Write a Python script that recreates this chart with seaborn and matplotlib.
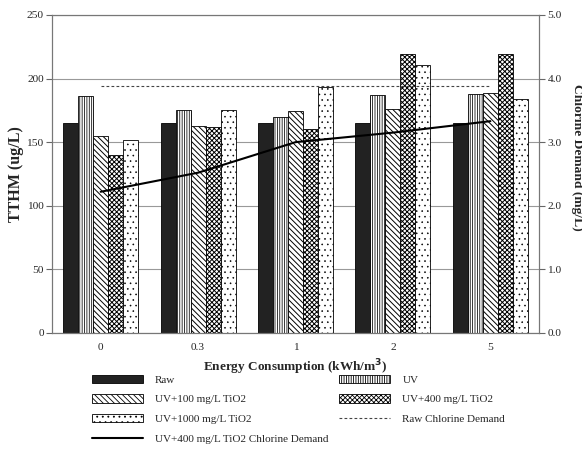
import seaborn as sns
import matplotlib.pyplot as plt
from matplotlib.patches import Patch
from matplotlib.lines import Line2D
import numpy as np
import pandas as pd

# energy consumption levels (kWh/m3)
energy = ["0", "0.3", "1", "2", "5"]
treatments = ["Raw", "UV", "UV+100 mg/L TiO2", "UV+400 mg/L TiO2", "UV+1000 mg/L TiO2"]

# TTHM (ug/L) per treatment
tthm_raw = [165, 165, 165, 165, 165]
tthm_uv = [186, 175, 169.5, 187, 188]
tthm_uv100 = [155, 163, 174.5, 176, 189]
tthm_uv400 = [140, 162, 160, 219, 219]
tthm_uv1000 = [152, 175, 193, 211, 184]

# chlorine demand (mg/L)
cl_raw = [3.88, 3.88, 3.88, 3.88, 3.88]
cl_uv400 = [2.22, 2.52, 3.0, 3.15, 3.33]

sns.set_style("white")
plt.rcParams['font.family'] = ['Liberation Serif', 'DejaVu Serif']
plt.rcParams['hatch.linewidth'] = 0.6
plt.rcParams['font.size'] = 8

df = pd.DataFrame({
    "Energy": energy * 5,
    "Treatment": np.repeat(treatments, len(energy)),
    "TTHM": tthm_raw + tthm_uv + tthm_uv100 + tthm_uv400 + tthm_uv1000,
})

styles = {
    "Raw": dict(facecolor="#222222", hatch=None, hlw=0.6),
    "UV": dict(facecolor="white", hatch="|" * 7, hlw=0.55),
    "UV+100 mg/L TiO2": dict(facecolor="white", hatch="\\" * 6, hlw=0.7),
    "UV+400 mg/L TiO2": dict(facecolor="white", hatch="x" * 7, hlw=0.7),
    "UV+1000 mg/L TiO2": dict(facecolor="white", hatch="...", hlw=0.4),
}

fig = plt.figure(figsize=(5.82, 4.53), dpi=100)
ax = fig.add_axes([0.0893, 0.265, 0.837, 0.702])
ax.yaxis.grid(True, color="#999999", lw=0.8)
ax.set_axisbelow(True)

sns.barplot(data=df, x="Energy", y="TTHM", hue="Treatment", hue_order=treatments,
            order=energy, width=0.77, palette=["white"] * 5, edgecolor="black",
            linewidth=0.6, legend=False, ax=ax)


def style_patch(p, t):
    st = styles[t]
    p.set_facecolor(st["facecolor"])
    if st["hatch"]:
        p.set_hatch(st["hatch"])
        if hasattr(p, "set_hatch_linewidth"):
            p.set_hatch_linewidth(st["hlw"])


for cont, t in zip(ax.containers, treatments):
    for p in cont:
        style_patch(p, t)

ax.set_xlim(-0.5, 4.5)
ax.set_ylim(0, 250)
ax.set_yticks([0, 50, 100, 150, 200, 250])
ax.set_xticks(np.arange(-0.5, 5, 1), minor=True)
ax.tick_params(axis="x", which="major", length=0, pad=7, labelsize=8.2)
ax.tick_params(axis="x", which="minor", length=5, direction="inout", color="#666666")
ax.tick_params(axis="y", length=4, direction="out", color="#666666", labelsize=8.2, left=True, pad=2)
ax.set_xlabel("Energy Consumption (kWh/m$^\\mathbf{3}$)", fontweight="bold", fontsize=9.5, labelpad=4)
ax.set_ylabel("TTHM (ug/L)", fontweight="bold", fontsize=11.5, va="center")
ax.yaxis.set_label_coords(-0.074, 0.5)
for s in ax.spines.values():
    s.set_color("#777777")

ax2 = ax.twinx()
pos = np.arange(len(energy))
sns.lineplot(x=pos, y=cl_raw, ax=ax2, color="#444444", lw=0.8)
ax2.lines[-1].set_dashes((2.5, 2))
sns.lineplot(x=pos, y=cl_uv400, ax=ax2, color="black", lw=1.5)
ax2.set_ylim(0, 5)
ax2.set_yticks(np.arange(0, 5.5, 1))
ax2.set_yticklabels([f"{v:.1f}" for v in np.arange(0, 5.5, 1)])
ax2.tick_params(axis="y", length=4, direction="out", color="#666666", labelsize=8.2, right=True, pad=2)
ax2.set_ylabel("Chlorine Demand (mg/L)", fontweight="bold", fontsize=9.7, rotation=-90)
ax2.yaxis.label.set_va("center")
ax2.yaxis.label.set_ha("center")
ax2.yaxis.set_label_coords(1.077, 0.553)
ax2.set_xlim(-0.5, 4.5)
for s in ax2.spines.values():
    s.set_color("#777777")


def bar_handle(t):
    st = styles[t]
    h = Patch(facecolor=st["facecolor"], edgecolor="black", lw=0.6, hatch=st["hatch"])
    if st["hatch"] and hasattr(h, "set_hatch_linewidth"):
        h.set_hatch_linewidth(st["hlw"])
    return h


h_raw_cl = Line2D([], [], color="#444444", lw=0.8, dashes=(2.5, 2))
h_uv_cl = Line2D([], [], color="black", lw=1.5)
handles = [bar_handle("Raw"), bar_handle("UV+100 mg/L TiO2"), bar_handle("UV+1000 mg/L TiO2"), h_uv_cl,
           bar_handle("UV"), bar_handle("UV+400 mg/L TiO2"), h_raw_cl]
labels = ["Raw", "UV+100 mg/L TiO2", "UV+1000 mg/L TiO2", "UV+400 mg/L TiO2 Chlorine Demand",
          "UV", "UV+400 mg/L TiO2", "Raw Chlorine Demand"]
fig.legend(handles, labels, loc="upper left", bbox_to_anchor=(0.150, 0.183), ncol=2, frameon=False,
           handlelength=4.6, handleheight=0.8, labelspacing=0.86, columnspacing=0.95,
           handletextpad=1.1, fontsize=8, borderaxespad=0)

fig.savefig("out.png", dpi=100)
